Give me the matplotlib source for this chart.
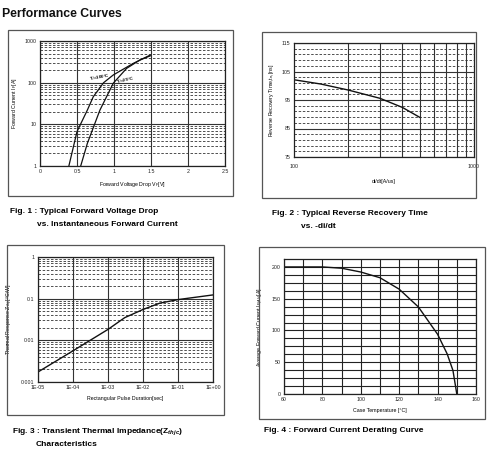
import matplotlib
matplotlib.use("Agg")
import matplotlib.pyplot as plt
from matplotlib.patches import Rectangle
from matplotlib.ticker import FixedLocator, NullFormatter, NullLocator

plt.rcParams['font.family'] = ['Liberation Sans', 'DejaVu Sans']
plt.rcParams['mathtext.fontset'] = 'custom'
plt.rcParams['mathtext.rm'] = 'Liberation Sans'
plt.rcParams['mathtext.it'] = 'Liberation Sans:italic:bold'
plt.rcParams['mathtext.bf'] = 'Liberation Sans:bold'

# ---------------- data ----------------
# Fig 1: forward voltage drop vs forward current
vf_100 = [0.39, 0.50, 0.64, 0.72, 0.86, 0.99, 1.26, 1.49]
if_100 = [1, 6.7, 22, 46, 100, 153, 290, 460]
vf_25 = [0.55, 0.64, 0.81, 0.99, 1.17, 1.35, 1.49]
if_25 = [1, 3.5, 22, 97, 220, 350, 440]
fig1_xticks = [0, 0.5, 1, 1.5, 2, 2.5]
fig1_xticklabels = ['0', '0.5', '1', '1.5', '2', '2.5']
fig1_yticks = [1, 10, 100, 1000]
fig1_yticklabels = ['1', '10', '100', '1000']

# Fig 2: reverse recovery time vs di/dt
didt = [100, 141, 200, 300, 400, 500]
trr = [102.1, 100.6, 98.5, 95.6, 92.4, 88.9]
fig2_yticks = [75, 85, 95, 105, 115]

# Fig 3: transient thermal impedance
pulse = [1e-5, 1e-4, 1e-3, 3e-3, 1e-2, 3e-2, 1e-1, 1]
zth = [0.00174, 0.0056, 0.0183, 0.035, 0.055, 0.078, 0.095, 0.123]
fig3_xticks = [1e-5, 1e-4, 1e-3, 1e-2, 1e-1, 1]
fig3_xticklabels = ['1E-05', '1E-04', '1E-03', '1E-02', '1E-01', '1E+00']
fig3_yticks = [0.001, 0.01, 0.1, 1]
fig3_yticklabels = ['0.001', '0.01', '0.1', '1']

# Fig 4: forward current derating
tcase = [60, 80, 90, 100, 110, 120, 130, 140, 145, 148, 150]
ifav = [200, 200, 198, 192, 183, 165, 137, 94, 63, 37, 0]
fig4_xticks = [60, 80, 100, 120, 140, 160]
fig4_yticks = [0, 50, 100, 150, 200]

# ---------------- figure ----------------
fig = plt.figure(figsize=(4.88, 4.5), dpi=100)
W, H = 488.0, 450.0

def px_axes(x0, y0, x1, y1):
    return fig.add_axes([x0 / W, 1 - y1 / H, (x1 - x0) / W, (y1 - y0) / H])

def px_box(x0, y0, x1, y1):
    fig.patches.append(Rectangle((x0 / W, 1 - y1 / H), (x1 - x0) / W, (y1 - y0) / H,
                                 transform=fig.transFigure, fill=False,
                                 edgecolor='#555555', linewidth=0.9))

TICK_FS = 3.8
LAB_FS = 3.8
CAP_FS = 6.0
GRID_C = '#333333'

def style(ax):
    ax.tick_params(length=0, labelsize=TICK_FS, pad=2.5, colors='#222222')
    for s in ax.spines.values():
        s.set_linewidth(0.9)
        s.set_color('#222222')

fig.text(2 / W, 1 - 14 / H, 'Performance Curves', fontsize=8.8, fontweight='bold',
         va='center', ha='left', color='#111111')

# ---- Fig 1 ----
px_box(8, 30, 233, 196)
ax1 = px_axes(40, 41, 225, 166)
ax1.set_yscale('log')
ax1.set_xlim(0, 2.5)
ax1.set_ylim(1, 1000)
ax1.set_xticks(fig1_xticks)
ax1.set_xticklabels(fig1_xticklabels)
ax1.set_yticks(fig1_yticks)
ax1.set_yticklabels(fig1_yticklabels)
ax1.yaxis.set_minor_locator(FixedLocator([m * 10 ** k for k in range(3) for m in range(2, 10)]))
ax1.yaxis.set_minor_formatter(NullFormatter())
ax1.tick_params(which='minor', length=0)
ax1.grid(True, which='major', axis='both', color=GRID_C, lw=0.8)
ax1.grid(True, which='minor', axis='y', color=GRID_C, lw=0.6, ls=(0, (3, 2)))
ax1.plot(vf_100, if_100, color='#111111', lw=0.9)
ax1.plot(vf_25, if_25, color='#111111', lw=0.9)
ax1.text(0.66, 135, r'T$_{\rm J}$=100°C', fontsize=3.2, fontweight='bold', rotation=10,
         va='center', ha='left')
ax1.text(1.02, 112, r'T$_{\rm J}$=25°C', fontsize=3.2, fontweight='bold', rotation=12,
         va='center', ha='left')
ax1.set_xlabel(r'Forward Voltage Drop V$_{\rm F}$[V]', fontsize=LAB_FS, labelpad=4)
ax1.set_ylabel(r'Forward Current I$_{\rm F}$[A]', fontsize=LAB_FS, labelpad=4)
style(ax1)
fig.text(10 / W, 1 - 212 / H, 'Fig. 1 : Typical Forward Voltage Drop', fontsize=CAP_FS,
         fontweight='bold', va='center')
fig.text(37 / W, 1 - 225 / H, 'vs. Instantaneous Forward Current', fontsize=CAP_FS,
         fontweight='bold', va='center')

# ---- Fig 2 ----
px_box(262, 32, 476, 198)
ax2 = px_axes(294, 43, 474, 157)
ax2.set_xscale('log')
ax2.set_xlim(100, 1000)
ax2.set_ylim(75, 115)
ax2.set_xticks([100, 1000])
ax2.set_xticklabels(['100', '1000'])
ax2.xaxis.set_minor_locator(FixedLocator([m * 100 for m in range(2, 10)]))
ax2.xaxis.set_minor_formatter(NullFormatter())
ax2.set_yticks(fig2_yticks)
ax2.set_yticklabels([str(v) for v in fig2_yticks])
ax2.yaxis.set_minor_locator(FixedLocator([v for v in range(77, 115, 2) if (v - 75) % 10 != 0]))
ax2.tick_params(which='minor', length=0)
ax2.grid(True, which='major', axis='y', color=GRID_C, lw=0.8)
ax2.grid(True, which='minor', axis='x', color=GRID_C, lw=0.8)
ax2.grid(True, which='minor', axis='y', color=GRID_C, lw=0.6, ls=(0, (3, 2)))
ax2.plot(didt, trr, color='#111111', lw=1.0)
ax2.set_xlabel('di/dt[A/us]', fontsize=LAB_FS, labelpad=7)
ax2.set_ylabel(r'Reverse Recovery Time,t$_{\rm rr}$,[ns]', fontsize=LAB_FS, labelpad=4)
style(ax2)
ax2.tick_params(axis='x', pad=5)
fig.text(272 / W, 1 - 213 / H, 'Fig. 2 : Typical Reverse Recovery Time', fontsize=CAP_FS,
         fontweight='bold', va='center')
fig.text(301 / W, 1 - 226 / H, 'vs. -di/dt', fontsize=CAP_FS, fontweight='bold', va='center')

# ---- Fig 3 ----
px_box(7, 245, 224, 415)
ax3 = px_axes(38, 257, 213, 382)
ax3.set_xscale('log')
ax3.set_yscale('log')
ax3.set_xlim(1e-5, 1)
ax3.set_ylim(0.001, 1)
ax3.set_xticks(fig3_xticks)
ax3.set_xticklabels(fig3_xticklabels)
ax3.set_yticks(fig3_yticks)
ax3.set_yticklabels(fig3_yticklabels)
ax3.xaxis.set_minor_locator(NullLocator())
ax3.yaxis.set_minor_locator(FixedLocator([m * 10.0 ** k for k in range(-3, 0) for m in range(2, 10)]))
ax3.yaxis.set_minor_formatter(NullFormatter())
ax3.tick_params(which='minor', length=0)
ax3.grid(True, which='major', axis='both', color=GRID_C, lw=0.8)
ax3.grid(True, which='minor', axis='y', color=GRID_C, lw=0.6, ls=(0, (3, 2)))
ax3.plot(pulse, zth, color='#111111', lw=1.0)
ax3.set_xlabel('Rectangular Pulse Duration[sec]', fontsize=LAB_FS, labelpad=4)
ax3.set_ylabel(r'Thermal Response Z$_{\rm thjc}$[°C/W]', fontsize=LAB_FS, labelpad=4)
style(ax3)
fig.text(12 / W, 1 - 432 / H, r'Fig. 3 : Transient Thermal Impedance(Z$_{thjc}$)',
         fontsize=CAP_FS, fontweight='bold', va='center')
fig.text(36 / W, 1 - 445 / H, 'Characteristics', fontsize=CAP_FS, fontweight='bold', va='center')

# ---- Fig 4 ----
px_box(259, 247, 485, 419)
ax4 = px_axes(284, 259, 476, 394)
ax4.set_xlim(60, 160)
ax4.set_ylim(0, 212.5)
ax4.set_xticks(fig4_xticks)
ax4.set_xticklabels([str(v) for v in fig4_xticks])
ax4.set_yticks(fig4_yticks)
ax4.set_yticklabels([str(v) for v in fig4_yticks])
ax4.xaxis.set_minor_locator(FixedLocator(list(range(70, 160, 20))))
ax4.yaxis.set_minor_locator(FixedLocator([v * 12.5 for v in range(1, 17) if v % 4 != 0]))
ax4.tick_params(which='minor', length=0)
ax4.grid(True, which='both', axis='both', color='#222222', lw=0.8)
ax4.plot(tcase, ifav, color='#111111', lw=1.0)
ax4.set_xlabel('Case Temperature [°C]', fontsize=LAB_FS, labelpad=4)
ax4.set_ylabel(r'Average Forward Current I$_{\rm F(AV)}$[A]', fontsize=LAB_FS, labelpad=4)
style(ax4)
fig.text(264 / W, 1 - 430 / H, 'Fig. 4 : Forward Current Derating Curve', fontsize=CAP_FS,
         fontweight='bold', va='center')

fig.savefig('out.png', dpi=100)
